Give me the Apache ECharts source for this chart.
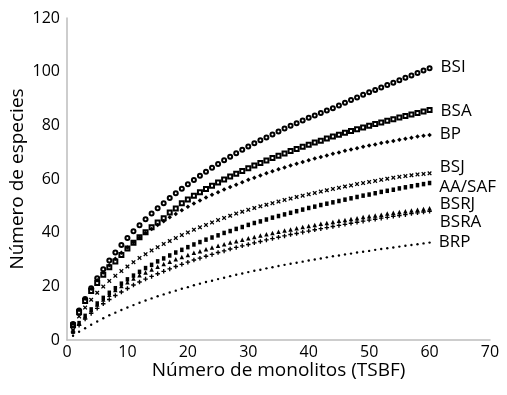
<!DOCTYPE html>
<html>
<head>
<meta charset="utf-8">
<script src="https://cdn.jsdelivr.net/npm/echarts@6/dist/echarts.min.js"></script>
<style>
html,body{margin:0;padding:0;background:#fff;}
#chart{width:507px;height:395px;}
</style>
</head>
<body>
<div id="chart"></div>
<script>
// x values: número de monolitos
const monolitos = [1,2,3,4,5,6,7,8,9,10,11,12,13,14,15,16,17,18,19,20,21,22,23,24,25,26,27,28,29,30,31,32,33,34,35,36,37,38,39,40,41,42,43,44,45,46,47,48,49,50,51,52,53,54,55,56,57,58,59,60];

const seriesNames = ['BSI','BSA','BP','BSJ','AA/SAF','BSRJ','BSRA','BRP'];

const BSI = [6.0,11.0,15.3,19.3,23.0,26.4,29.6,32.6,35.4,38.0,40.5,42.8,45.0,47.1,49.1,51.0,52.9,54.7,56.4,58.0,59.6,61.2,62.7,64.2,65.6,67.0,68.3,69.6,70.9,72.1,73.3,74.4,75.5,76.6,77.7,78.8,79.8,80.8,81.8,82.8,83.7,84.6,85.5,86.4,87.4,88.4,89.4,90.4,91.4,92.3,93.2,94.1,95.0,95.9,96.8,97.7,98.6,99.5,100.4,101.3];
const BSA = [5.5,10.3,14.5,18.3,21.2,24.3,27.1,29.3,31.7,34.1,36.2,38.3,40.2,42.0,43.8,45.4,47.5,49.0,51.0,52.4,53.8,55.1,56.3,57.5,58.7,59.8,60.9,62.0,63.0,64.0,65.0,66.0,66.9,67.8,68.7,69.5,70.4,71.2,72.0,72.8,73.6,74.3,75.1,75.8,76.5,77.2,77.9,78.5,79.2,79.8,80.5,81.1,81.7,82.3,82.9,83.5,84.0,84.6,85.2,85.7];
const BP = [6.1,11.2,15.4,19.1,22.3,25.2,27.9,30.3,32.5,34.5,36.4,38.2,39.9,41.4,42.9,44.3,45.7,47.0,48.4,49.7,50.9,52.0,53.1,54.1,55.1,56.1,57.0,57.9,58.8,59.7,60.5,61.3,62.1,62.9,63.6,64.3,65.0,65.7,66.3,67.0,67.6,68.2,68.8,69.4,69.9,70.5,71.0,71.5,72.0,72.5,72.9,73.4,73.8,74.2,74.6,75.0,75.4,75.8,76.1,76.4];
const BSJ = [4.8,8.8,12.1,15.0,17.6,19.9,22.0,23.9,25.7,27.4,29.0,30.6,32.0,33.4,34.6,35.8,36.9,38.0,39.1,40.1,41.1,42.0,42.9,43.8,44.7,45.5,46.3,47.1,47.8,48.5,49.2,49.8,50.4,51.0,51.6,52.2,52.7,53.3,53.8,54.3,54.8,55.3,55.8,56.3,56.7,57.2,57.6,58.1,58.5,58.9,59.3,59.7,60.1,60.5,60.8,61.1,61.4,61.7,61.9,62.1];
const AASAF = [3.3,6.3,9.0,11.4,13.6,15.7,17.6,19.3,21.0,22.6,24.0,25.4,26.8,28.0,29.3,30.4,31.5,32.6,33.6,34.6,35.6,36.5,37.4,38.2,39.0,39.9,40.6,41.4,42.1,42.9,43.6,44.2,44.9,45.6,46.2,46.8,47.4,48.0,48.6,49.2,49.7,50.3,50.8,51.3,51.8,52.3,52.8,53.3,53.8,54.2,54.7,55.2,55.6,56.0,56.5,56.9,57.3,57.7,58.1,58.5];
const BSRJ = [3.2,6.2,8.8,11.1,13.2,15.1,16.9,18.6,20.1,21.5,22.9,24.1,25.2,26.3,27.3,28.3,29.2,30.1,30.9,31.7,32.5,33.1,33.8,34.5,35.1,35.7,36.3,36.8,37.4,37.9,38.4,38.9,39.4,39.9,40.3,40.8,41.2,41.6,42.1,42.5,42.9,43.3,43.6,44.0,44.4,44.7,45.1,45.4,45.8,46.1,46.4,46.7,47.1,47.4,47.7,48.0,48.3,48.5,48.8,49.1];
const BSRA = [3.0,5.5,7.8,9.9,11.8,13.5,15.1,16.6,17.9,19.2,20.5,21.6,22.7,23.7,24.7,25.6,26.5,27.4,28.2,29.0,29.8,30.5,31.2,31.9,32.6,33.2,33.9,34.5,35.1,35.6,36.2,36.7,37.3,37.8,38.3,38.8,39.3,39.7,40.2,40.6,41.1,41.5,41.9,42.3,42.7,43.1,43.5,43.9,44.3,44.7,45.0,45.4,45.7,46.1,46.4,46.7,47.1,47.4,47.7,48.0];
const BRP = [1.6,3.1,4.4,5.7,6.9,8.1,9.2,10.2,11.2,12.1,13.0,13.9,14.7,15.5,16.3,17.0,17.7,18.4,19.1,19.7,20.4,21.0,21.6,22.1,22.7,23.2,23.8,24.3,24.8,25.3,25.8,26.2,26.7,27.1,27.6,28.0,28.4,28.8,29.2,29.6,30.0,30.4,30.8,31.2,31.5,31.9,32.2,32.6,32.9,33.2,33.6,33.9,34.2,34.5,34.8,35.1,35.4,35.7,36.0,36.3];

const xTicks = [0,10,20,30,40,50,60,70];
const yTicks = [0,20,40,60,80,100,120];

const values = [BSI,BSA,BP,BSJ,AASAF,BSRJ,BSRA,BRP];

// styling (not data)
const FONT = 'Open Sans';
const INK = '#000';
const XSHAPE = 'path://M0,2L2,0L5,3L8,0L10,2L7,5L10,8L8,10L5,7L2,10L0,8L3,5Z';
const PLUS = 'path://M3.5,0L6.5,0L6.5,3.5L10,3.5L10,6.5L6.5,6.5L6.5,10L3.5,10L3.5,6.5L0,6.5L0,3.5L3.5,3.5Z';
const styles = [
  {symbol:'emptyCircle', size:4, dy:-1},
  {symbol:'emptyRect', size:4, dy:1},
  {symbol:'diamond', size:4.5, dy:-1},
  {symbol:XSHAPE, size:4.5, dy:-6},
  {symbol:'rect', size:[3.5,4.5], dy:4},
  {symbol:'triangle', size:4.5, dy:-4},
  {symbol:PLUS, size:4.5, dy:11},
  {symbol:'circle', size:2.4, dy:0}
];

const series = seriesNames.map((name, k) => {
  const st = styles[k];
  const vals = values[k];
  const empty = typeof st.symbol === 'string' && st.symbol.indexOf('empty') === 0;
  return {
    type: 'scatter',
    name: name,
    symbol: st.symbol,
    symbolSize: st.size,
    silent: true,
    itemStyle: {color: INK, borderWidth: empty ? 0.9 : 0, opacity: 1},
    data: vals.map((v, i) => {
      const pt = [monolitos[i], v];
      if (i === vals.length - 1) {
        return {value: pt, label: {show: true, formatter: name, position: 'right', distance: 8,
          offset: [0, st.dy], fontFamily: FONT, fontSize: 17, color: INK}};
      }
      return pt;
    })
  };
});

const chart = echarts.init(document.getElementById('chart'), null, {renderer: 'canvas'});
chart.setOption({
  animation: false,
  backgroundColor: '#fff',
  grid: {left: 67, right: 17, top: 18, bottom: 55, containLabel: false, outerBoundsMode: 'none'},
  xAxis: {
    type: 'value', min: xTicks[0], max: xTicks[xTicks.length - 1], interval: 10,
    name: 'Número de monolitos (TSBF)', nameLocation: 'middle', nameGap: 21, nameMoveOverlap: false,
    nameTextStyle: {fontFamily: FONT, fontSize: 19, color: INK, verticalAlign: 'top'},
    axisLine: {show: true, lineStyle: {color: '#bdbdbd', width: 1.5}},
    axisTick: {show: false},
    splitLine: {show: false},
    axisLabel: {fontFamily: FONT, fontSize: 16, color: INK, margin: 4}
  },
  yAxis: {
    type: 'value', min: yTicks[0], max: yTicks[yTicks.length - 1], interval: 20,
    name: 'Número de especies', nameLocation: 'middle', nameGap: 40, nameMoveOverlap: false, nameRotate: 90,
    nameTextStyle: {fontFamily: FONT, fontSize: 19, color: INK},
    axisLine: {show: true, lineStyle: {color: '#bdbdbd', width: 1.5}},
    axisTick: {show: false},
    splitLine: {show: false},
    axisLabel: {fontFamily: FONT, fontSize: 16, color: INK, margin: 7}
  },
  series: series
});
</script>
</body>
</html>
